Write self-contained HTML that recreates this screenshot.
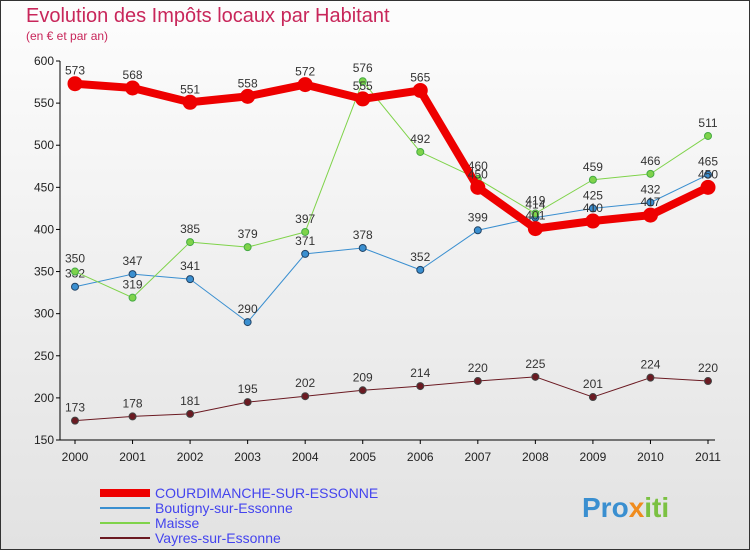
<!DOCTYPE html>
<html><head><meta charset="utf-8"><style>
body{margin:0;width:750px;height:550px;overflow:hidden;font-family:"Liberation Sans",sans-serif}
</style></head><body>
<svg id="c" width="750" height="550" xmlns="http://www.w3.org/2000/svg">
<defs><linearGradient id="bg" x1="0" y1="0" x2="0" y2="1"><stop offset="0" stop-color="#fdfdfd"/><stop offset="1" stop-color="#e2e2e2"/></linearGradient></defs>
<rect x="0.5" y="0.5" width="749" height="549" fill="url(#bg)" stroke="#333"/>
<text x="26" y="22" font-size="20" fill="#c8265a">Evolution des Impôts locaux par Habitant</text>
<text x="26" y="40" font-size="12" fill="#c8265a">(en € et par an)</text>
<g id="axes"></g><g id="series"></g><g id="legend"></g>
<text x="582" y="517" font-size="28" font-weight="bold" fill="#3a8fd0">Pro<tspan fill="#f08c1e">x</tspan><tspan fill="#7bc142">iti</tspan></text>
</svg>
<script>
const years=[2000,2001,2002,2003,2004,2005,2006,2007,2008,2009,2010,2011];
const yTicks=[150,200,250,300,350,400,450,500,550,600];
const courdimanche=[573,568,551,558,572,555,565,450,401,410,417,450];
const boutigny=[332,347,341,290,371,378,352,399,414,425,432,465];
const maisse=[350,319,385,379,397,576,492,460,419,459,466,511];
const vayres=[173,178,181,195,202,209,214,220,225,201,224,220];
const NS="http://www.w3.org/2000/svg";
const X=i=>75+i*(633/11);
const Y=v=>440-(v-150)*(379/450);
function mk(t,a,p){const e=document.createElementNS(NS,t);for(const k in a)e.setAttribute(k,a[k]);p.appendChild(e);return e;}
const ax=document.getElementById('axes');
let l=mk('line',{x1:60,y1:Y(600),x2:60,y2:Y(150),stroke:'#000'},ax);


l=mk('line',{x1:60,y1:Y(150),x2:715,y2:Y(150),stroke:'#000'},ax);


yTicks.forEach(v=>{mk('line',{x1:56,y1:Y(v),x2:60,y2:Y(v),stroke:'#000'},ax);
const t=mk('text',{x:54,y:Y(v)+4,'text-anchor':'end','font-size':12,fill:'#222'},ax);t.textContent=v;

});
years.forEach((y,i)=>{mk('line',{x1:X(i),y1:Y(150),x2:X(i),y2:Y(150)+4,stroke:'#000'},ax);
const t=mk('text',{x:X(i),y:Y(150)+21,'text-anchor':'middle','font-size':12,fill:'#222'},ax);t.textContent=y;

});
const S=document.getElementById('series');
function draw(data,color,w,r,name,dot){
const g=mk('g',{},S);


mk('polyline',{points:data.map((v,i)=>X(i)+','+Y(v)).join(' '),fill:'none',stroke:color,'stroke-width':w,'stroke-linejoin':'round'},g);
data.forEach((v,i)=>{const c=mk('circle',{cx:X(i),cy:Y(v),r:r,fill:color,stroke:dot,'stroke-width':1},g);


const t=mk('text',{x:X(i),y:Y(v)-9,'text-anchor':'middle','font-size':12,fill:'#333'},g);t.textContent=v;

});}
draw(vayres,'#6b1a22',1,3.5,'series-vayres','#444');
draw(boutigny,'#3a8fd0',1,3.5,'series-boutigny','#246');
draw(maisse,'#7fd34a',1,3.5,'series-maisse','#4a4');
draw(courdimanche,'#ee0000',8,7,'series-courdimanche','#e00');
const L=document.getElementById('legend');
[['COURDIMANCHE-SUR-ESSONNE','#ee0000',8],['Boutigny-sur-Essonne','#3a8fd0',2],['Maisse','#7fd34a',2],['Vayres-sur-Essonne','#6b1a22',2]].forEach((d,i)=>{
const y=493+i*15;
const g=mk('g',{},L);


mk('line',{x1:100,y1:y,x2:150,y2:y,stroke:d[1],'stroke-width':d[2]},g);
const t=mk('text',{x:155,y:y+5,'font-size':14,fill:'#4444ee'},g);t.textContent=d[0];});
</script>
</body></html>
